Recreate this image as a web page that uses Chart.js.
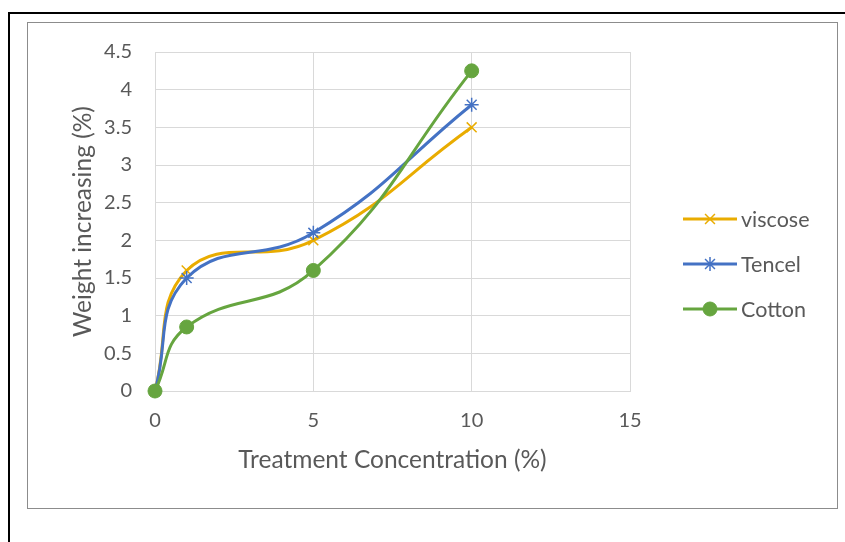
<!DOCTYPE html>
<html>
<head>
<meta charset="utf-8">
<script src="https://cdn.jsdelivr.net/npm/chart.js@4.4.1/dist/chart.umd.min.js"></script>
<style>
  html, body { margin: 0; padding: 0; background: #fff; }
  #page { position: relative; width: 845px; height: 542px; overflow: hidden; }
  #outer { position: absolute; left: 8px; top: 12px; width: 900px; height: 600px;
           border-left: 2px solid #000; border-top: 2px solid #000; }
  #box { position: absolute; left: 27px; top: 22px; width: 809px; height: 485px;
         border: 1px solid #8c8c8c; }
  #myChart { position: absolute; left: 0; top: 0; }
</style>
</head>
<body>
<div id="page">
  <div id="outer"></div>
  <div id="box"></div>
  <canvas id="myChart" width="845" height="542"></canvas>
</div>
<script>
// concentracion del tratamiento (%) y aumento de peso (%)
const concentracion = [0, 1, 5, 10];
const viscose = [0, 1.6, 2.0, 3.5];
const tencel = [0, 1.5, 2.1, 3.8];
const cotton = [0, 0.85, 1.6, 4.25];

const xTicks = [0, 5, 10, 15];
const yTicks = [0, 0.5, 1, 1.5, 2, 2.5, 3, 3.5, 4, 4.5];

const toPoints = (ys) => concentracion.map((x, i) => ({ x: x, y: ys[i] }));

const gris = '#595959';
const fuente = "Lato, 'Noto Sans', sans-serif";

// leyenda a la derecha: linea con marcador en medio
const leyenda = {
    id: 'leyenda',
    afterDraw(chart) {
        const ctx = chart.ctx;
        const x0 = 683, x1 = 737, y0 = 219, paso = 45;
        chart.data.datasets.forEach((ds, i) => {
            const y = y0 + i * paso;
            ctx.save();
            ctx.strokeStyle = ds.borderColor;
            ctx.lineWidth = ds.borderWidth;
            ctx.beginPath();
            ctx.moveTo(x0, y);
            ctx.lineTo(x1, y);
            ctx.stroke();
            ctx.fillStyle = ds.pointBackgroundColor;
            ctx.strokeStyle = ds.pointBorderColor;
            ctx.lineWidth = ds.pointBorderWidth;
            Chart.helpers.drawPoint(ctx, {
                pointStyle: ds.pointStyle,
                radius: ds.pointRadius,
                borderWidth: ds.pointBorderWidth
            }, (x0 + x1) / 2, y);
            ctx.restore();
            ctx.save();
            ctx.font = '21.5px ' + fuente;
            ctx.fillStyle = gris;
            ctx.textBaseline = 'middle';
            ctx.fillText(ds.label, x1 + 4, y + 1);
            ctx.restore();
        });
    }
};

function serie(label, ys, color, estilo, radio, orden) {
    return {
        label: label,
        data: toPoints(ys),
        borderColor: color,
        backgroundColor: color,
        borderWidth: 3,
        pointStyle: estilo,
        pointRadius: radio,
        pointHoverRadius: radio,
        pointBackgroundColor: color,
        pointBorderColor: color,
        pointBorderWidth: estilo === 'circle' ? 1 : 1.5,
        showLine: true,
        tension: 0.45,
        clip: false,
        order: orden
    };
}

const ctx = document.getElementById('myChart').getContext('2d');
const myChart = new Chart(ctx, {
    type: 'scatter',
    data: {
        datasets: [
            serie('viscose', viscose, '#e9ac00', 'crossRot', 7, 2),
            serie('Tencel', tencel, '#4472c4', 'star', 7, 1),
            serie('Cotton', cotton, '#66a53f', 'circle', 7, 0)
        ]
    },
    options: {
        responsive: false,
        animation: false,
        events: [],
        layout: { padding: { left: 0, right: 215, top: 52, bottom: 0 } },
        plugins: { legend: { display: false }, tooltip: { enabled: false } },
        scales: {
            x: {
                type: 'linear',
                min: 0, max: 15,
                afterFit: (s) => { s.height = 151; },
                afterBuildTicks: (s) => { s.ticks = xTicks.map(v => ({ value: v })); },
                grid: { color: '#d9d9d9', lineWidth: 1, drawTicks: false },
                border: { display: true, color: '#d9d9d9', width: 1 },
                ticks: { color: gris, font: { family: fuente, size: 20 }, padding: 18, maxRotation: 0,
                         callback: (v) => String(v) },
                title: {
                    display: true, text: 'Treatment Concentration (%)', color: gris,
                    font: { family: fuente, size: 24.5 }, padding: { top: 0, bottom: 67 }
                }
            },
            y: {
                type: 'linear',
                min: 0, max: 4.5,
                afterFit: (s) => { s.width = 155; },
                afterBuildTicks: (s) => { s.ticks = yTicks.map(v => ({ value: v })); },
                grid: { color: '#d9d9d9', lineWidth: 1, drawTicks: false },
                border: { display: true, color: '#d9d9d9', width: 1 },
                ticks: { color: gris, font: { family: fuente, size: 20 }, padding: 23,
                         callback: (v) => String(v) },
                title: {
                    display: true, text: 'Weight increasing (%)', color: gris,
                    font: { family: fuente, size: 24.5 }, padding: { top: 68, bottom: 0 }
                }
            }
        }
    },
    plugins: [leyenda]
});
</script>
</body>
</html>
